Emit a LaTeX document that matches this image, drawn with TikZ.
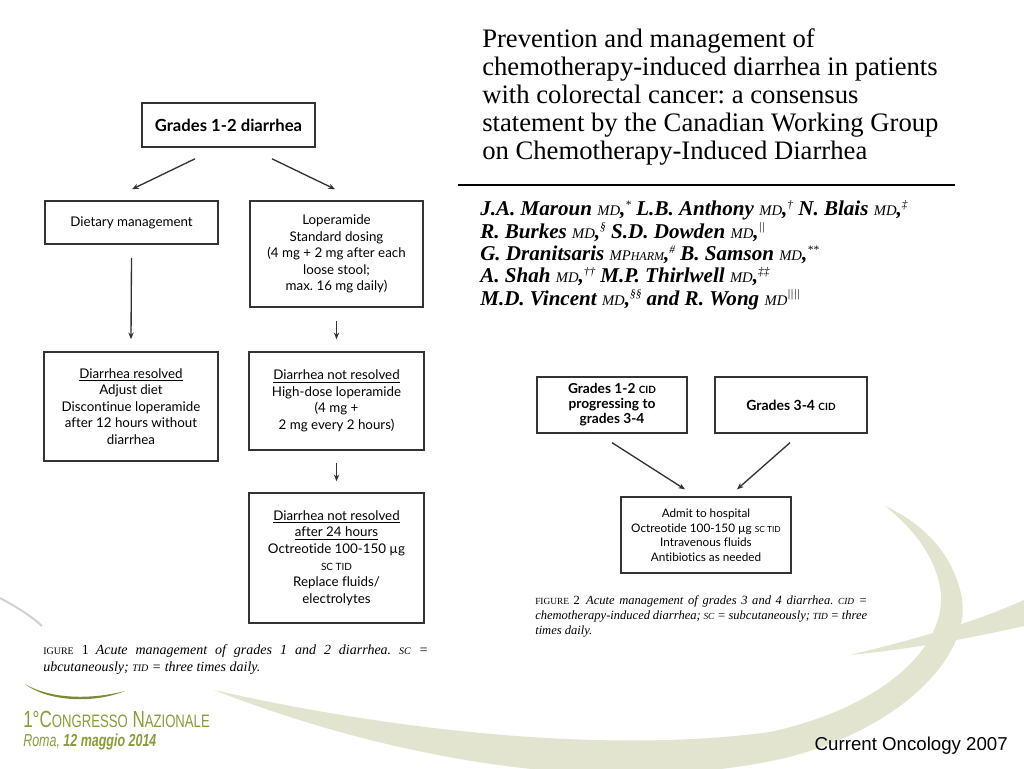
\documentclass[tikz,border=0pt]{standalone}
\usepackage{fontspec}
\setmainfont{Liberation Serif}
\setsansfont[Ligatures={NoCommon,NoRequired,NoContextual}]{Lato}
\newfontfamily\arialfont{Liberation Sans}
\usetikzlibrary{arrows.meta,calc}
\frenchspacing

\definecolor{swoosh}{HTML}{E2E4D0}
\definecolor{olive}{HTML}{8C9B3A}
\definecolor{boxline}{HTML}{333333}

\newcommand\fsc[2]{{\fontsize{#1}{#1}\selectfont #2}}
\newcommand\fnmark[1]{\raisebox{0.75ex}{\mdseries\fontsize{8.5pt}{8.5pt}\selectfont #1}}

\tikzset{
  box/.style={draw=boxline, line width=1.2pt, align=center, inner sep=0pt,
    font=\sffamily\fontsize{10pt}{12.4pt}\selectfont},
  smallbox/.style={box, line width=1pt, font=\sffamily\fontsize{8.8pt}{10.9pt}\selectfont},
  arr/.style={draw=boxline, line width=1pt, -{Stealth[length=5pt,width=4pt]}},
}

\begin{document}
\begin{tikzpicture}[x=0.75pt,y=-0.75pt]

	\useasboundingbox (0,0) rectangle (1024,768);
	\fill[white] (0,0) rectangle (1024,768);

	% background swooshes
	\fill[swoosh] (214,690) .. controls (380,755) and (600,800) .. (785,758)
		.. controls (905,728) and (978,650) .. (960,590)
		.. controls (950,550) and (920,522) .. (885,506)
		.. controls (915,530) and (938,560) .. (941,595)
		.. controls (944,650) and (880,708) .. (770,732)
		.. controls (600,755) and (380,728) .. (214,690) -- cycle;
	\fill[swoosh] (850,655) .. controls (920,638) and (975,622) .. (1024,600)
		-- (1024,626) .. controls (975,637) and (920,648) .. (850,655) -- cycle;
	\draw[gray!35, line width=1.5pt] (0,598) .. controls (15,606) and (30,615) .. (42,626);
	\fill[olive!90!black] (25,684) .. controls (45,700) and (90,705) .. (125,691)
		.. controls (90,700) and (50,699) .. (25,684) -- cycle;

	% figure 1
	\node[box, minimum width=129.75pt, minimum height=33pt,
		font=\sffamily\bfseries\fontsize{12.5pt}{14pt}\selectfont] (g12) at (228.5,125) {Grades 1-2 diarrhea};
	\node[box, minimum width=129.75pt, minimum height=32.25pt] (diet) at (131.5,222.5) {Dietary management};
	\node[box, minimum width=129.75pt, minimum height=79.5pt] (lop) at (336.5,254)
		{Loperamide\\Standard dosing\\(4 mg + 2 mg after each\\loose stool;\\max. 16 mg daily)};
	\node[box, minimum width=130.5pt, minimum height=81.75pt] (res) at (131,406.5)
		{\underline{Diarrhea resolved}\\Adjust diet\\Discontinue loperamide\\after 12 hours without\\diarrhea};
	\node[box, minimum width=131.25pt, minimum height=73.5pt] (notres) at (336.5,401)
		{\underline{Diarrhea not resolved}\\High-dose loperamide\\(4 mg +\\2 mg every 2 hours)};
	\node[box, minimum width=131.25pt, minimum height=97.5pt] (late) at (336.5,558)
		{\underline{Diarrhea not resolved}\\\underline{after 24 hours}\\Octreotide 100-150 µg\\\fsc{7.5pt}{SC TID}\\Replace fluids/\\electrolytes};

	\draw[arr] ($(g12.south)+(-33.5,11)$) -- ($(diet.north)+(0.5,-11)$);
	\draw[arr] ($(g12.south)+(43.5,11)$) -- ($(lop.north)+(-1.5,-11)$);
	\draw[arr] ($(diet.south)+(0,13)$) -- ($(res.north)+(0,-12)$);
	\draw[arr] ($(lop.south)+(0,13)$) -- ($(notres.north)+(0,-12)$);
	\draw[arr] ($(notres.south)+(0,12)$) -- ($(late.north)+(0,-11)$);

	\node[anchor=base west, align=left, inner sep=0pt,
		font=\itshape\fontsize{10.5pt}{12.75pt}\selectfont] (cap1) at (43,671)
		{\makebox[288.75pt][s]{\upshape\fsc{7.5pt}{IGURE} 1\enspace\itshape Acute management of grades 1 and 2 diarrhea. \fsc{7.5pt}{SC} =}\\
		ubcutaneously; \fsc{7.5pt}{TID} = three times daily.};

	% title and authors
	\node[anchor=base west, align=left, inner sep=0pt,
		font=\fontsize{20pt}{21pt}\selectfont] (title) at (482,159)
		{Prevention and management of\\chemotherapy-induced diarrhea in patients\\with colorectal cancer: a consensus\\statement by the Canadian Working Group\\on Chemotherapy-Induced Diarrhea};
	\draw[line width=1.1pt] (458,185) -- (955,185);
	\node[anchor=base west, align=left, inner sep=0pt,
		font=\bfseries\itshape\fontsize{15.8pt}{16.7pt}\selectfont] (authors) at (480,305)
		{J.A. Maroun {\mdseries\fsc{11pt}{MD}},\fnmark{*} L.B. Anthony {\mdseries\fsc{11pt}{MD}},\fnmark{\textdagger} N. Blais {\mdseries\fsc{11pt}{MD}},\fnmark{\textdaggerdbl}\\
		R. Burkes {\mdseries\fsc{11pt}{MD}},\fnmark{\S} S.D. Dowden {\mdseries\fsc{11pt}{MD}},\fnmark{||}\\
		G. Dranitsaris {\mdseries\fsc{11pt}{MP}\fsc{9pt}{HARM}},\fnmark{\#} B. Samson {\mdseries\fsc{11pt}{MD}},\fnmark{**}\\
		A. Shah {\mdseries\fsc{11pt}{MD}},\fnmark{\textdagger\textdagger} M.P. Thirlwell {\mdseries\fsc{11pt}{MD}},\fnmark{\textdaggerdbl\textdaggerdbl}\\
		M.D. Vincent {\mdseries\fsc{11pt}{MD}},\fnmark{\S\S} and R. Wong {\mdseries\fsc{11pt}{MD}}\fnmark{||||}};

	% figure 2
	\node[smallbox, minimum width=112.5pt, minimum height=42pt,
		font=\sffamily\bfseries\fontsize{10.3pt}{11.25pt}\selectfont] (early) at (612,405)
		{Grades 1-2 \fsc{7.5pt}{CID}\\progressing to\\grades 3-4};
	\node[smallbox, minimum width=114pt, minimum height=42pt,
		font=\sffamily\bfseries\fontsize{10.5pt}{11.25pt}\selectfont] (severe) at (791,405)
		{Grades 3-4 \fsc{7.5pt}{CID}};
	\node[smallbox, minimum width=127.5pt, minimum height=57pt] (admit) at (706,535)
		{Admit to hospital\\Octreotide 100-150 µg \fsc{6.3pt}{SC TID}\\Intravenous fluids\\Antibiotics as needed};

	\draw[arr] ($(early.south)+(0,9)$) -- ($(admit.north)+(-21,-7)$);
	\draw[arr] ($(severe.south)+(-1,9)$) -- ($(admit.north)+(31,-7)$);

	\node[anchor=base west, align=left, inner sep=0pt,
		font=\itshape\fontsize{9.4pt}{11.25pt}\selectfont] (cap2) at (535,634)
		{\makebox[249pt][s]{\upshape\fsc{7pt}{FIGURE} 2\enspace\itshape Acute management of grades 3 and 4 diarrhea. \fsc{7pt}{CID} =}\\
		\makebox[249pt][s]{chemotherapy-induced diarrhea; \fsc{7pt}{SC} = subcutaneously; \fsc{7pt}{TID} = three}\\
		times daily.};

	% footer
	\node[anchor=base west, inner sep=0pt, text=olive, font=\arialfont] (congress) at (23,727)
		{\scalebox{0.73}[1]{\fontsize{17.5pt}{18pt}\selectfont 1°C\fsc{13.5pt}{ONGRESSO} N\fsc{13.5pt}{AZIONALE}}};
	\node[anchor=base west, inner sep=0pt, text=olive, font=\arialfont\itshape] (place) at (23,746)
		{\scalebox{0.72}[1]{\fontsize{13pt}{14pt}\selectfont Roma, \bfseries 12 maggio 2014}};
	\node[anchor=base east, inner sep=0pt, font=\arialfont\fontsize{14pt}{16pt}\selectfont] (journal) at (1008,750)
		{Current Oncology 2007};

\end{tikzpicture}
\end{document}
